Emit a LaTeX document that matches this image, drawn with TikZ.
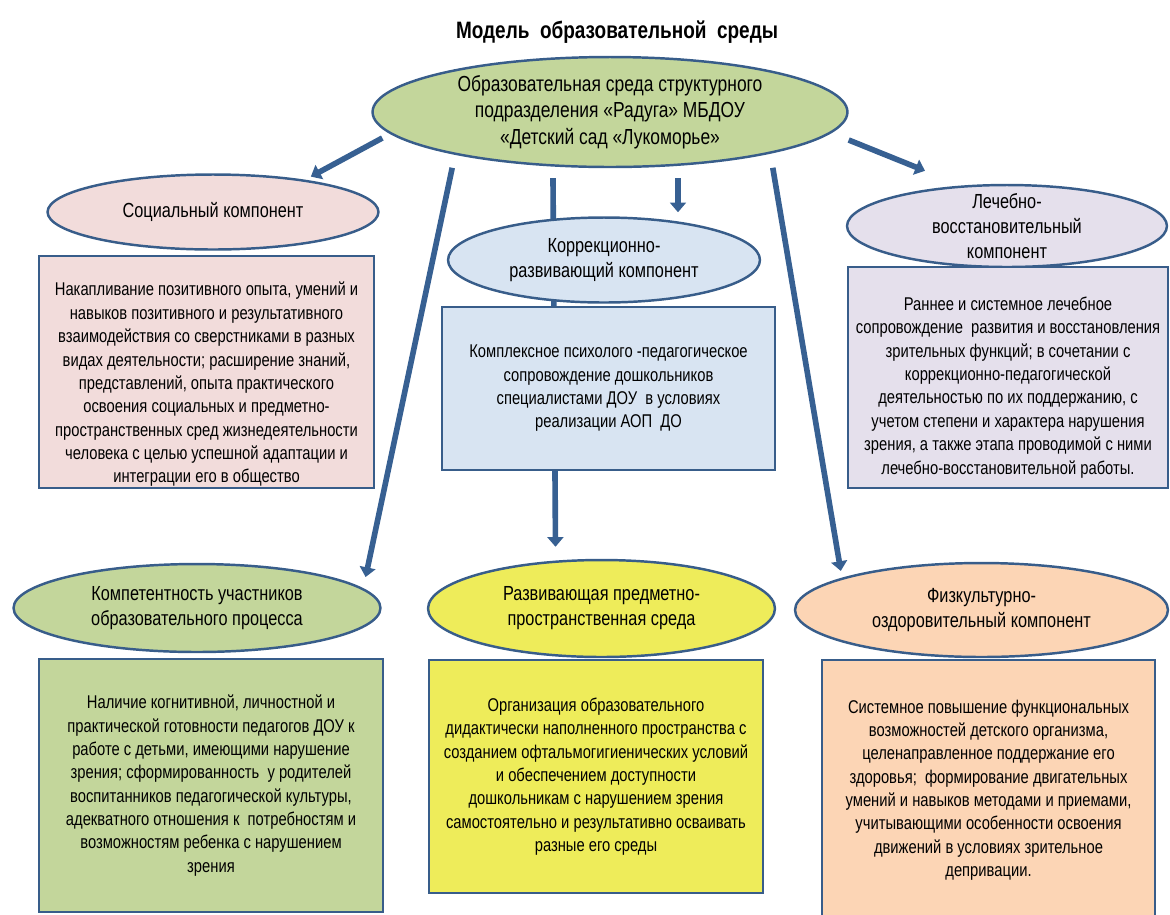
\documentclass[tikz,border=0pt]{standalone}
\usepackage{fontspec}
\setmainfont{Liberation Sans}[FakeStretch=0.80]
\usetikzlibrary{shapes.geometric,arrows.meta,backgrounds}
\definecolor{edgeblue}{RGB}{56,93,138}
\definecolor{arrowblue}{RGB}{55,96,146}
\definecolor{envgreen}{RGB}{195,214,155}
\definecolor{socpink}{RGB}{242,220,219}
\definecolor{corrblue}{RGB}{216,228,242}
\definecolor{medlilac}{RGB}{229,224,236}
\definecolor{devyellow}{RGB}{238,236,90}
\definecolor{physpeach}{RGB}{252,213,181}
\begin{document}
\begin{tikzpicture}[x=0.02cm, y=-0.02cm,
  comp/.style={ellipse, draw=edgeblue, line width=1.4pt, inner sep=0pt, align=center,
    font=\fontsize{11.6}{14.3}\selectfont},
  descr/.style={rectangle, draw=edgeblue, line width=1.4pt, inner sep=0pt, align=center,
    font=\fontsize{10.5}{13.3}\selectfont},
  link/.style={draw=arrowblue, line width=3.2pt, -{Triangle[length=5.5pt,width=9pt]}}]
\useasboundingbox (0,0) rectangle (1170,914);
\node[font=\bfseries\fontsize{13.5}{16}\selectfont] (title) at (617,32) {Модель\ \ образовательной\ \ среды};
\node[comp, fill=envgreen, minimum width=9.5cm, minimum height=2.2cm, font=\fontsize{12.4}{15}\selectfont] (env) at (610,112)
  {Образовательная среда структурного\\подразделения «Радуга» МБДОУ\\«Детский сад «Лукоморье»};
% upper row
\node[comp, fill=socpink, minimum width=6.62cm, minimum height=1.5cm] (soc) at (213,212) {Социальный компонент};
\node[descr, fill=socpink, minimum width=6.7cm, minimum height=4.64cm] (socbox) at (206.5,372)
  {\rule{0pt}{22pt}Накапливание позитивного опыта, умений и\\навыков позитивного и результативного\\взаимодействия со сверстниками в разных\\видах деятельности; расширение знаний,\\представлений, опыта практического\\освоения социальных и предметно-\\пространственных сред жизнедеятельности\\человека с целью успешной адаптации и\\интеграции его в общество};
\node[comp, fill=corrblue, minimum width=6.24cm, minimum height=1.7cm] (corr) at (604,260) {Коррекционно-\\развивающий компонент};
\node[descr, fill=corrblue, minimum width=6.66cm, minimum height=3.26cm] (corrbox) at (608.5,388.5)
  {Комплексное психолого -педагогическое\\сопровождение дошкольников\\специалистами ДОУ\ \ в условиях\\реализации АОП\ \ ДО};
\node[comp, fill=medlilac, minimum width=6.4cm, minimum height=1.64cm, inner ysep=-0.2cm] (med) at (1007,226)
  {Лечебно-\\восстановительный\\компонент};
\node[descr, fill=medlilac, minimum width=6.4cm, minimum height=4.42cm] (medbox) at (1008,377.5)
  {\rule{0pt}{19pt}Раннее и системное лечебное\\сопровождение\ \ развития и восстановления\\зрительных функций; в сочетании с\\коррекционно-педагогической\\деятельностью по их поддержанию, с\\учетом степени и характера нарушения\\зрения, а также этапа проводимой с ними\\лечебно-восстановительной работы.};
% lower row
\node[comp, fill=envgreen, minimum width=7.34cm, minimum height=1.76cm] (compet) at (197,608)
  {Компетентность участников\\образовательного процесса};
\node[descr, fill=envgreen, minimum width=6.88cm, minimum height=5.06cm] (competbox) at (211,785.5)
  {Наличие когнитивной, личностной и\\практической готовности педагогов ДОУ к\\работе с детьми, имеющими нарушение\\зрения; сформированность\ \ у родителей\\воспитанников педагогической культуры,\\адекватного отношения к\ \ потребностям и\\возможностям ребенка с нарушением\\зрения};
\node[comp, fill=devyellow, minimum width=6.94cm, minimum height=1.94cm] (dev) at (601.5,608.5)
  {Развивающая предметно-\\пространственная среда};
\node[descr, fill=devyellow, minimum width=6.68cm, minimum height=4.66cm] (devbox) at (596,776.5)
  {Организация образовательного\\дидактически наполненного пространства с\\созданием офтальмогигиенических условий\\и обеспечением доступности\\дошкольникам с нарушением зрения\\самостоятельно и результативно осваивать\\разные его среды};
\node[comp, fill=physpeach, minimum width=7.46cm, minimum height=1.88cm] (phys) at (981.5,610)
  {Физкультурно-\\оздоровительный компонент};
\node[descr, fill=physpeach, minimum width=6.66cm, minimum height=5.2cm] (physbox) at (988.5,790)
  {Системное повышение функциональных\\возможностей детского организма,\\целенаправленное поддержание его\\здоровья;\ \ формирование двигательных\\умений и навыков методами и приемами,\\учитывающими особенности освоения\\движений в условиях зрительное\\депривации.};
% arrows
\begin{scope}[on background layer]
\draw[link] ([shift={(11,26)}]env.west) -- ([shift={(-20,-8)}]soc.north east);
\draw[link] ([shift={(11,16)}]env.south west) -- ([shift={(38,1)}]compet.north east);
\draw[link] ([shift={(-57,10)}]env.south) -- ([shift={(-46,-12)}]dev.north);
\draw[link] ([shift={(68,10)}]env.south) -- ([shift={(74,-4)}]corr.north);
\draw[link] ([shift={(-6,16)}]env.south east) -- ([shift={(-8,-5)}]phys.north west);
\draw[link] ([shift={(0,28)}]env.east) -- ([shift={(-82,-13)}]med.north);
\end{scope}
\end{tikzpicture}
\end{document}
